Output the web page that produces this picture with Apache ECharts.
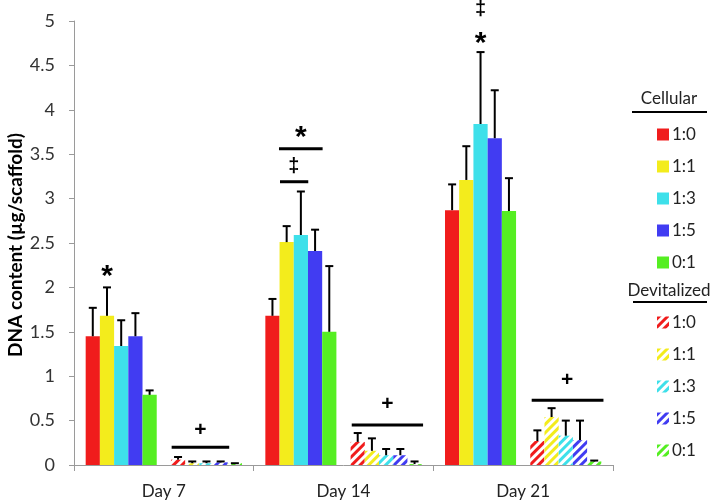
<!DOCTYPE html>
<html>
<head>
<meta charset="utf-8">
<script src="https://cdn.jsdelivr.net/npm/echarts@6/dist/echarts.min.js"></script>
<style>html,body{margin:0;padding:0;background:#fff}#c{width:714px;height:503px}</style>
</head>
<body>
<div id="c"></div>
<script>
var days = ['Day 7', 'Day 14', 'Day 21'];
var ratios = ['1:0', '1:1', '1:3', '1:5', '0:1'];
var colors = ['#f01c1c', '#f3ec1c', '#3ee0ea', '#413cf2', '#55ee22'];

// Cellular means per ratio [Day7, Day14, Day21]
var cell_1_0 = [1.45, 1.68, 2.87];
var cell_1_1 = [1.68, 2.51, 3.21];
var cell_1_3 = [1.34, 2.59, 3.84];
var cell_1_5 = [1.45, 2.41, 3.68];
var cell_0_1 = [0.79, 1.50, 2.86];
// Cellular error-bar tops (mean + SD)
var cellErr_1_0 = [1.77, 1.87, 3.16];
var cellErr_1_1 = [2.00, 2.69, 3.59];
var cellErr_1_3 = [1.63, 3.08, 4.65];
var cellErr_1_5 = [1.71, 2.65, 4.22];
var cellErr_0_1 = [0.84, 2.24, 3.23];

// Devitalized means
var dev_1_0 = [0.06, 0.26, 0.27];
var dev_1_1 = [0.02, 0.16, 0.54];
var dev_1_3 = [0.02, 0.11, 0.33];
var dev_1_5 = [0.03, 0.11, 0.28];
var dev_0_1 = [0.02, 0.01, 0.04];
// Devitalized error-bar tops
var devErr_1_0 = [0.09, 0.36, 0.39];
var devErr_1_1 = [0.04, 0.30, 0.64];
var devErr_1_3 = [0.04, 0.18, 0.50];
var devErr_1_5 = [0.04, 0.18, 0.50];
var devErr_0_1 = [0.02, 0.04, 0.05];

var yTicks = [0, 0.5, 1, 1.5, 2, 2.5, 3, 3.5, 4, 4.5, 5];

// Significance annotations: [day index, from slot, to slot, value]
var sigLines = [
  [0, 6.05, 10.1, 0.20],
  [1, 1.03, 3.02, 3.19],
  [1, 0.96, 4.03, 3.56],
  [1, 6.08, 11.1, 0.45],
  [2, 6.1, 11.15, 0.73]
];
// [day index, slot, value]
var sigMarks = [
  [0, 1.5, 2.18],
  [0, 8.07, 0.39],
  [1, 2.0, 3.36],
  [1, 2.5, 3.74],
  [1, 8.58, 0.68],
  [2, 2.5, 4.80],
  [2, 2.5, 5.13],
  [2, 8.6, 0.96]
];
var sigSymbols = ['*', '+', '\u2021', '*', '+', '*', '\u2021', '+'];

var cellMeans = [cell_1_0, cell_1_1, cell_1_3, cell_1_5, cell_0_1];
var cellErrs = [cellErr_1_0, cellErr_1_1, cellErr_1_3, cellErr_1_5, cellErr_0_1];
var devMeans = [dev_1_0, dev_1_1, dev_1_3, dev_1_5, dev_0_1];
var devErrs = [devErr_1_0, devErr_1_1, devErr_1_3, devErr_1_5, devErr_0_1];

var NSLOT = 11, CATGAP = 0.13;
var FONT = 'Lato, "Noto Sans", sans-serif';

function slotX(api, cat, slot) {
  var c = api.coord([cat, 0]);
  var band = api.size([1, 0])[0];
  var bw = band * (1 - CATGAP) / NSLOT;
  return c[0] - band * (1 - CATGAP) / 2 + slot * bw;
}

var series = [];
ratios.forEach(function (r, i) {
  series.push({
    name: 'Cellular ' + r, type: 'bar', data: cellMeans[i],
    barGap: 0, barCategoryGap: '13%',
    itemStyle: { color: colors[i] }
  });
});
series.push({ name: 'gap', type: 'bar', data: ['-', '-', '-'], barGap: 0, barCategoryGap: '13%', silent: true });
ratios.forEach(function (r, i) {
  series.push({
    name: 'Devitalized ' + r, type: 'bar', data: devMeans[i],
    barGap: 0, barCategoryGap: '13%',
    itemStyle: {
      color: '#ffffff',
      decal: { color: colors[i], symbol: 'rect', dashArrayX: [1, 0], dashArrayY: [2.5, 2.5], rotation: -Math.PI / 4, symbolSize: 1 }
    }
  });
});

var errData = [];
for (var i = 0; i < 5; i++) {
  for (var d = 0; d < 3; d++) {
    errData.push([d, i, cellMeans[i][d], cellErrs[i][d]]);
    errData.push([d, i + 6, devMeans[i][d], devErrs[i][d]]);
  }
}
series.push({
  type: 'custom', name: 'err', silent: true, z: 5,
  data: errData,
  encode: { x: 0, y: 3 },
  renderItem: function (params, api) {
    var cat = api.value(0), slot = api.value(1);
    var x = slotX(api, cat, slot + 0.5);
    var y0 = api.coord([cat, api.value(2)])[1];
    var y1 = api.coord([cat, api.value(3)])[1];
    return {
      type: 'group', children: [
        { type: 'line', shape: { x1: x, y1: y0, x2: x, y2: y1 }, style: { stroke: '#000', lineWidth: 2 } },
        { type: 'line', shape: { x1: x - 4, y1: y1, x2: x + 4, y2: y1 }, style: { stroke: '#000', lineWidth: 2 } }
      ]
    };
  }
});
series.push({
  type: 'custom', name: 'sigLines', silent: true, z: 6, clip: false,
  data: sigLines,
  encode: { x: 0, y: 3 },
  renderItem: function (params, api) {
    var cat = api.value(0);
    var xa = slotX(api, cat, api.value(1));
    var xb = slotX(api, cat, api.value(2));
    var y = api.coord([cat, api.value(3)])[1];
    return { type: 'line', shape: { x1: xa, y1: y, x2: xb, y2: y }, style: { stroke: '#000', lineWidth: 3 } };
  }
});
series.push({
  type: 'custom', name: 'sigMarks', silent: true, z: 6, clip: false,
  data: sigMarks,
  encode: { x: 0, y: 2 },
  renderItem: function (params, api) {
    var cat = api.value(0);
    var x = slotX(api, cat, api.value(1));
    var y = api.coord([cat, api.value(2)])[1];
    var s = sigSymbols[params.dataIndex];
    var font, dy;
    if (s === '*') { font = 'bold 30px "Liberation Sans", sans-serif'; dy = 5; }
    else if (s === '+') { font = 'bold 21px "Liberation Sans", sans-serif'; dy = 0; }
    else { font = 'bold 20px "Liberation Sans", sans-serif'; dy = 0; }
    return {
      type: 'text',
      style: { text: s, x: x, y: y + dy, textAlign: 'center', textVerticalAlign: 'middle', font: font, fill: '#000' }
    };
  }
});

var legendBase = {
  orient: 'vertical', icon: 'rect', itemWidth: 12, itemHeight: 12, itemGap: 15,
  left: 652, selectedMode: false,
  formatter: function (n) { return n.split(' ')[1]; },
  textStyle: { fontSize: 17, fontFamily: FONT, color: '#222', padding: [0, 0, 0, -2] }
};

var option = {
  animation: false,
  grid: { left: 74, right: 101, top: 21, bottom: 38 },
  xAxis: {
    type: 'category', data: days,
    axisLine: { lineStyle: { color: '#9a9a9a', width: 1 } },
    axisTick: { show: true, length: 6, lineStyle: { color: '#9a9a9a' } },
    axisLabel: { fontSize: 17, fontFamily: FONT, color: '#222', margin: 18 }
  },
  yAxis: {
    type: 'value', min: 0, max: 5, interval: 0.5,
    splitLine: { show: false },
    axisLine: { show: true, lineStyle: { color: '#9a9a9a' } },
    axisTick: { show: true, length: 5, lineStyle: { color: '#9a9a9a' } },
    axisLabel: { fontSize: 18, fontFamily: FONT, color: '#333', margin: 19,
      formatter: function (v) { return yTicks.indexOf(v) >= 0 ? String(v) : ''; } }
  },
  legend: [
    Object.assign({}, legendBase, { top: 121, data: ratios.map(function (r) { return 'Cellular ' + r; }) }),
    Object.assign({}, legendBase, { top: 309, data: ratios.map(function (r) { return 'Devitalized ' + r; }) })
  ],
  graphic: [
    { type: 'text', x: 16, y: 245, rotation: Math.PI / 2,
      style: { text: 'DNA content (\u00b5g/scaffold)', font: 'bold 19px ' + FONT, fill: '#000', textAlign: 'center', textVerticalAlign: 'middle' } },
    { type: 'text', x: 669, y: 99, style: { text: 'Cellular', font: '17px ' + FONT, fill: '#222', textAlign: 'center', textVerticalAlign: 'middle' } },
    { type: 'line', shape: { x1: 632, y1: 112, x2: 707, y2: 112 }, style: { stroke: '#000', lineWidth: 2 } },
    { type: 'text', x: 669, y: 291, style: { text: 'Devitalized', font: '17px ' + FONT, fill: '#222', textAlign: 'center', textVerticalAlign: 'middle' } },
    { type: 'line', shape: { x1: 633, y1: 302, x2: 707, y2: 302 }, style: { stroke: '#000', lineWidth: 2 } }
  ],
  series: series
};
echarts.init(document.getElementById('c')).setOption(option);
</script>
</body>
</html>
